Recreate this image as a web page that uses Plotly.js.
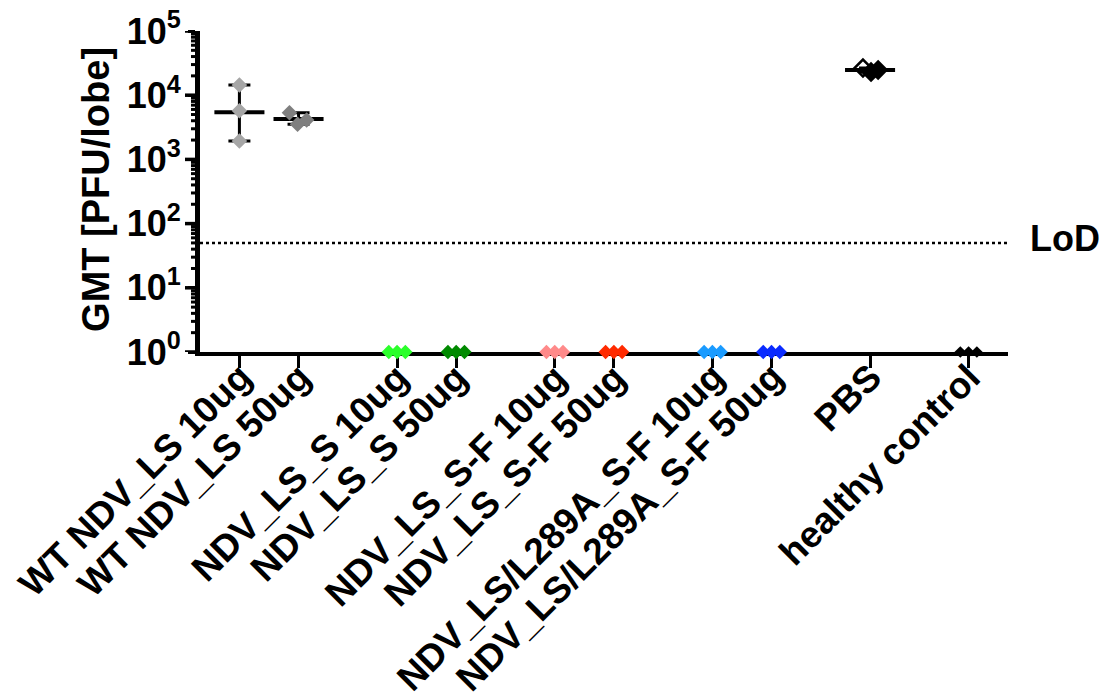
<!DOCTYPE html>
<html>
<head>
<meta charset="utf-8">
<script src="https://cdn.plot.ly/plotly-3.0.1.min.js"></script>
<style>html,body{margin:0;padding:0;background:#fff;}#chart{width:1115px;height:699px;}</style>
</head>
<body>
<div id="chart"></div>
<script>
// ---- data ----
const groups = ['WT NDV_LS 10ug', 'WT NDV_LS 50ug', 'NDV_LS_S 10ug', 'NDV_LS_S 50ug',
  'NDV_LS_S-F 10ug', 'NDV_LS_S-F 50ug', 'NDV_LS/L289A_S-F 10ug', 'NDV_LS/L289A_S-F 50ug',
  'PBS', 'healthy control'];
const groupPos = [0, 3, 8, 11, 16, 19, 24, 27, 32, 37];
const valsWT10 = [14400, 5740, 1935];
const valsWT50 = [5340, 3520, 4110];
const valsS10 = [1, 1, 1];
const valsS50 = [1, 1, 1];
const valsSF10 = [1, 1, 1];
const valsSF50 = [1, 1, 1];
const valsL10 = [1, 1, 1];
const valsL50 = [1, 1, 1];
const valsPBS = [26500, 22970, 24700];
const valsHealthy = [1, 1, 1];
const jitterWT10 = [0, 0, 0];
const jitterWT50 = [-0.46, -0.05, 0.41];
const jitterZero = [-0.42, 0, 0.42];
const jitterPBS = [-0.36, 0.05, 0.41];
const lod = 50;
const yTickVals = [1, 10, 100, 1000, 10000, 100000];
const yTickText = ['10<sup>0</sup>', '10<sup>1</sup>', '10<sup>2</sup>', '10<sup>3</sup>', '10<sup>4</sup>', '10<sup>5</sup>'];
const minorMultipliers = [2, 3, 4, 5, 6, 7, 8, 9];
const yTitle = 'GMT [PFU/lobe]';

const allVals = [valsWT10, valsWT50, valsS10, valsS50, valsSF10, valsSF50, valsL10, valsL50, valsPBS, valsHealthy];
const allJit = [jitterWT10, jitterWT50, jitterZero, jitterZero, jitterZero, jitterZero, jitterZero, jitterZero, jitterPBS, jitterZero];
const colors = ['#A6A6A6', '#7F7F7F', '#2BFF2B', '#008A00', '#FF8A8A', '#FF2A00', '#1A9BFF', '#0A2BFF', '#000000', '#000000'];
const sizes = [12, 12, 11, 11, 11, 11, 11, 11, 13, 9];

const minorVals = [];
yTickVals.slice(0, -1).forEach(d => minorMultipliers.forEach(m => minorVals.push(d * m)));

const FONT = 'Liberation Sans, Arial, sans-serif';
const XR = [-2, 39];
const YR = [0, 5];
const ML = 180, MR = 107;
const PAPER_W = 1115 - ML - MR;
const GAP = 20;            // px between paper edge and main plot area
const TICK_W = 18;         // px width of tick strip subplot
const traces = [];

// LoD dotted line
traces.push({x: XR, y: [lod, lod], mode: 'lines', line: {color: '#000', width: 2.5, dash: 'dot'},
  hoverinfo: 'skip', showlegend: false});

// GMT lines and range error bars
allVals.forEach((v, i) => {
  if (Math.max(...v) <= 1) return;
  const gmt = Math.pow(10, v.reduce((s, a) => s + Math.log10(a), 0) / v.length);
  const mx = Math.max(...v), mn = Math.min(...v);
  traces.push({x: [groupPos[i]], y: [gmt], mode: 'markers', marker: {size: 1, opacity: 0},
    error_y: {type: 'data', symmetric: false, array: [mx - gmt], arrayminus: [gmt - mn],
      color: '#000', thickness: 3, width: 11},
    showlegend: false, hoverinfo: 'skip'});
  traces.push({x: [groupPos[i] - 1.27, groupPos[i] + 1.27], y: [gmt, gmt], mode: 'lines',
    line: {color: '#000', width: 4}, showlegend: false, hoverinfo: 'skip'});
});

// points
allVals.forEach((v, i) => {
  const xs = v.map((_, k) => groupPos[i] + allJit[i][k]);
  const isPBS = groups[i] === 'PBS';
  traces.push({
    x: xs, y: v, mode: 'markers', cliponaxis: false, showlegend: false, name: groups[i],
    marker: {
      symbol: isPBS ? ['diamond-open', 'diamond', 'diamond'] : 'diamond',
      size: sizes[i], color: colors[i],
      line: {width: isPBS ? 2.5 : 0, color: colors[i]}
    }
  });
});

// y-axis tick marks drawn in a narrow strip subplot (x2) just left of the axis line
// x2 units = pixels relative to the main plot's left edge
function tickSegs(vals, len) {
  const xs = [], ys = [];
  vals.forEach(v => { xs.push(-len - 1, -1, null); ys.push(v, v, null); });
  return {xs, ys};
}
const mn = tickSegs(minorVals, 8);
traces.push({x: mn.xs, y: mn.ys, xaxis: 'x2', yaxis: 'y', mode: 'lines', connectgaps: false,
  line: {color: '#000', width: 3}, hoverinfo: 'skip', showlegend: false});
const mj = tickSegs(yTickVals, 14);
traces.push({x: mj.xs, y: mj.ys, xaxis: 'x2', yaxis: 'y', mode: 'lines', connectgaps: false,
  line: {color: '#000', width: 3.5}, hoverinfo: 'skip', showlegend: false});

const annotations = [{
  xref: 'paper', yref: 'y', x: (1028 - ML) / PAPER_W, y: Math.log10(lod) + 0.07, xanchor: 'left', yanchor: 'middle',
  text: 'LoD', showarrow: false, font: {family: FONT, size: 36, color: '#000', weight: 'bold'}
}, {
  xref: 'paper', yref: 'paper', x: (96 - ML) / PAPER_W, y: 0.505, xanchor: 'center', yanchor: 'middle',
  textangle: -90, text: yTitle, showarrow: false,
  font: {family: FONT, size: 38, color: '#000', weight: 'bold'}
}];
// category labels, rotated 45 degrees, ending at their tick
groups.forEach((g, i) => annotations.push({
  xref: 'x', yref: 'paper', x: groupPos[i], y: 0, xanchor: 'right', yanchor: 'top',
  xshift: 21, yshift: -3, textangle: -45, text: g, showarrow: false, borderpad: 0,
  font: {family: FONT, size: 37, color: '#000', weight: 'bold'}
}));

const layout = {
  width: 1115, height: 699,
  margin: {l: ML, r: MR, t: 31, b: 347},
  paper_bgcolor: '#fff', plot_bgcolor: 'rgba(0,0,0,0)',
  font: {family: FONT, color: '#000', size: 36, weight: 'bold'},
  xaxis: {
    domain: [GAP / PAPER_W, 1],
    range: XR, tickmode: 'array', tickvals: groupPos, showticklabels: false,
    ticks: 'outside', ticklen: 12, tickwidth: 3, tickcolor: '#000',
    showline: true, linewidth: 4, linecolor: '#000', showgrid: false, zeroline: false,
    layer: 'below traces'
  },
  xaxis2: {
    domain: [(GAP - TICK_W) / PAPER_W, GAP / PAPER_W], anchor: 'y',
    range: [-TICK_W, 0], visible: false, showgrid: false, zeroline: false, fixedrange: true
  },
  yaxis: {
    anchor: 'x',
    type: 'log', range: YR, tickmode: 'array', tickvals: yTickVals, ticktext: yTickText,
    ticks: 'outside', ticklen: 7, tickwidth: 3, tickcolor: '#000',
    showline: true, linewidth: 5, linecolor: '#000', showgrid: false, zeroline: false,
    layer: 'below traces',
    tickfont: {family: FONT, size: 36, color: '#000', weight: 'bold'}
  },
  annotations: annotations,
  showlegend: false
};

Plotly.newPlot('chart', traces, layout, {displayModeBar: false, staticPlot: true});
</script>
</body>
</html>
